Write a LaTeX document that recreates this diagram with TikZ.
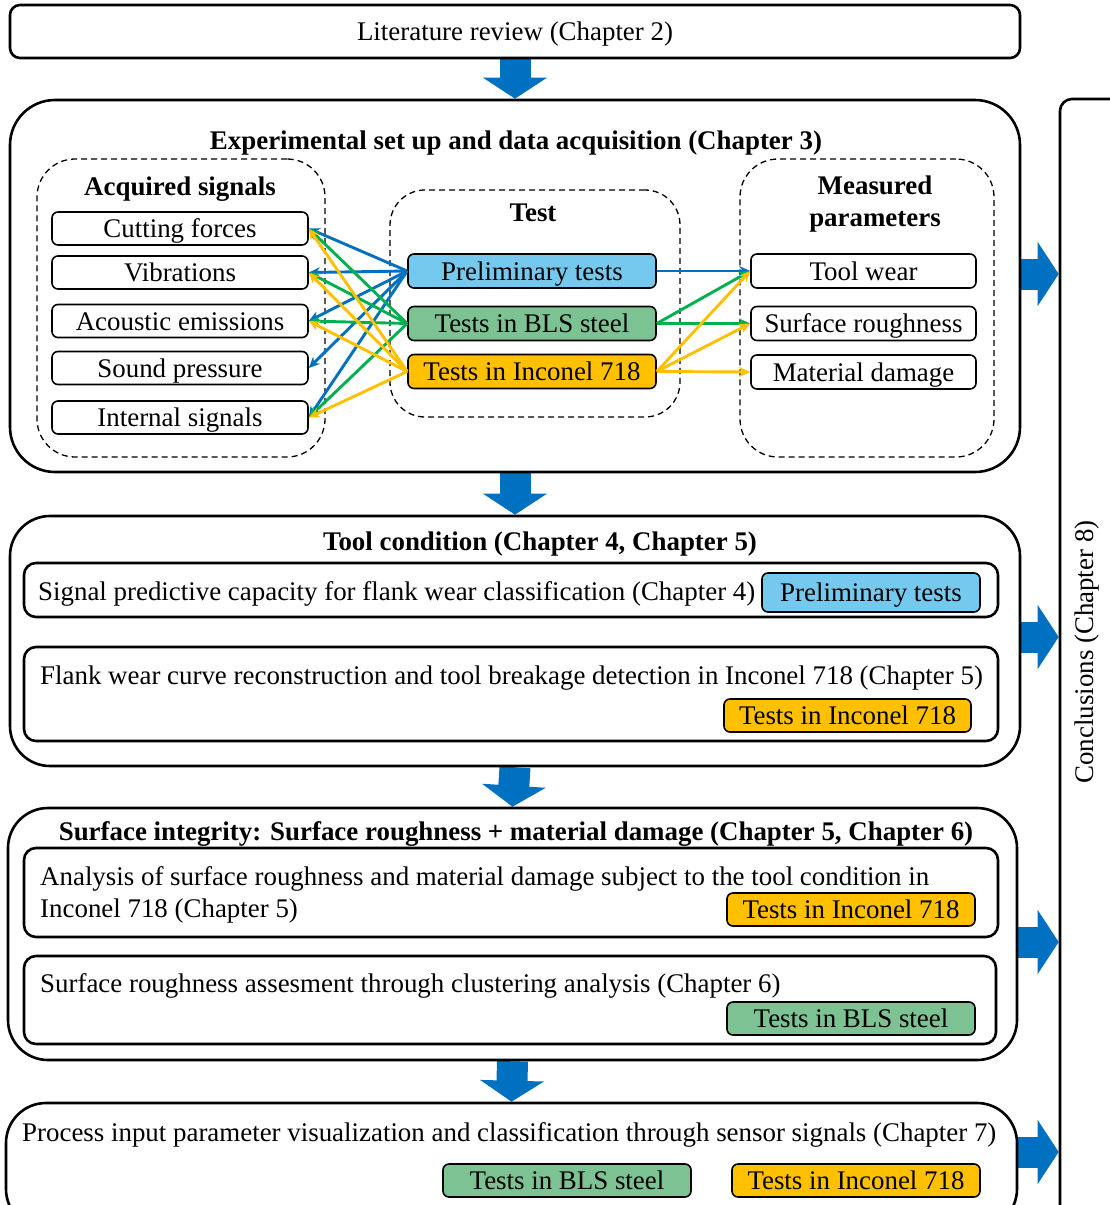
\documentclass[tikz,border=0pt]{standalone}
\usepackage{fontspec}
\setmainfont{Liberation Serif}
\usetikzlibrary{arrows.meta,calc,backgrounds}
\definecolor{ablue}{HTML}{0070C0}
\definecolor{agreen}{HTML}{00B050}
\definecolor{ayellow}{HTML}{FFC000}
\definecolor{fblue}{HTML}{75C9EE}
\definecolor{fgreen}{HTML}{7CC292}
\definecolor{fyellow}{HTML}{FFC000}
\newcommand\fsz{\fontsize{26.9}{32}\selectfont}
\tikzset{
  every node/.style={font=\fsz},
  outerbox/.style={draw, line width=2.6pt, inner sep=0pt, rounded corners=40pt},
  innerbox/.style={draw, line width=2.6pt, inner sep=0pt, rounded corners=12pt},
  dashbox/.style={draw, line width=1.3pt, dash pattern=on 6pt off 4pt, inner sep=0pt, rounded corners=38pt},
  sigbox/.style={draw, line width=1.6pt, rounded corners=6pt, inner sep=0pt, text height=21pt, text depth=3pt},
  prebox/.style={sigbox, fill=fblue},
  blsbox/.style={sigbox, fill=fgreen},
  incbox/.style={sigbox, fill=fyellow},
  title/.style={font=\fsz\bfseries, inner sep=0pt, anchor=base},
  plain/.style={inner sep=0pt, anchor=base west},
  conn/.style={line width=2.9pt, -{Stealth[length=11pt,width=10pt]}},
  bigdown/.style={draw=ablue, line width=31pt, -{Triangle[length=21pt 0 0,width=63pt 0 0]}},
}
\begin{document}
\begin{tikzpicture}[x=1pt,y=-1pt]
\clip (0,0) rectangle (1110,1205);

% Literature review
\node[innerbox, rounded corners=10pt, minimum width=1010, minimum height=53, text height=21pt, text depth=3pt] (lit) at (515,31.5) {Literature review (Chapter 2)};

% Experimental set up
\node[outerbox, rounded corners=45pt, minimum width=1010, minimum height=372] (exp) at (515,286) {};
\node[title] (exptitle) at (516,149) {Experimental set up and data acquisition (Chapter 3)};

\node[dashbox, minimum width=288, minimum height=298] (acq) at (181,308) {};
\node[title] (acqtitle) at (180,195) {Acquired signals};
\node[dashbox, rounded corners=35pt, minimum width=290, minimum height=227] (test) at (535,303.5) {};
\node[title] (testtitle) at (533,221) {Test};
\node[dashbox, minimum width=254, minimum height=298] (meas) at (867,308) {};
\node[title] (meastitle1) at (875,194) {Measured};
\node[title] (meastitle2) at (875,226) {parameters};

\node[sigbox, minimum width=256, minimum height=33] (cf) at (180,228.5) {Cutting forces};
\node[sigbox, minimum width=256, minimum height=33] (vib) at (180,272.5) {Vibrations};
\node[sigbox, minimum width=256, minimum height=33] (ae) at (180,321) {Acoustic emissions};
\node[sigbox, minimum width=256, minimum height=33] (sp) at (180,368) {Sound pressure};
\node[sigbox, minimum width=256, minimum height=33] (is) at (180,417.5) {Internal signals};

\node[prebox, minimum width=248, minimum height=34] (pre) at (532,271) {Preliminary tests};
\node[blsbox, minimum width=248, minimum height=34] (bls) at (532,323.5) {Tests in BLS steel};
\node[incbox, minimum width=248, minimum height=34] (inc) at (532,371.5) {Tests in Inconel 718};

\node[sigbox, minimum width=225, minimum height=34] (tw) at (863.5,271) {Tool wear};
\node[sigbox, minimum width=225, minimum height=34] (sr) at (863.5,323.5) {Surface roughness};
\node[sigbox, minimum width=225, minimum height=34] (md) at (863.5,372) {Material damage};

% connectors to acquired signals
\foreach \t in {cf,vib,ae,sp,is} \draw[conn, ablue] (pre.west) -- (\t.east);
\foreach \t in {cf,vib,ae,is} \draw[conn, agreen] (bls.west) -- (\t.east);
\foreach \t in {cf,vib,ae,is} \draw[conn, ayellow] (inc.west) -- (\t.east);
% connectors to measured parameters
\draw[conn, ablue] (pre.east) -- (tw.west);
\foreach \t in {tw,sr} \draw[conn, agreen] (bls.east) -- (\t.west);
\foreach \t in {tw,sr,md} \draw[conn, ayellow] (inc.east) -- (\t.west);

% Tool condition
\node[outerbox, minimum width=1010, minimum height=250] (tool) at (515,641) {};
\node[title] (tooltitle) at (540,550) {Tool condition (Chapter 4, Chapter 5)};
\node[innerbox, minimum width=974, minimum height=54] (t1) at (511,590) {};
\node[plain] (t1text) at (38,600) {Signal predictive capacity for flank wear classification (Chapter 4)};
\node[prebox, minimum width=218, minimum height=39] (t1pre) at (871,592.5) {Preliminary tests};
\node[innerbox, minimum width=974, minimum height=94] (t2) at (511,694) {};
\node[plain] (t2text) at (40,684) {Flank wear curve reconstruction and tool breakage detection in Inconel 718 (Chapter 5)};
\node[incbox, minimum width=247, minimum height=33] (t2inc) at (847.5,715.5) {Tests in Inconel 718};

% Surface integrity
\node[outerbox, minimum width=1009, minimum height=252] (surf) at (512.5,934) {};
\node[title] (surftitle) at (516,840) {Surface integrity: Surface roughness + material damage (Chapter 5, Chapter 6)};
\node[innerbox, minimum width=974, minimum height=89] (s1) at (511,892.5) {};
\node[plain] (s1text1) at (40,885) {Analysis of surface roughness and material damage subject to the tool condition in};
\node[plain] (s1text2) at (40,917) {Inconel 718 (Chapter 5)};
\node[incbox, minimum width=248, minimum height=33] (s1inc) at (851,909.5) {Tests in Inconel 718};
\node[innerbox, minimum width=972, minimum height=88] (s2) at (510,1000) {};
\node[plain] (s2text) at (40,992) {Surface roughness assesment through clustering analysis (Chapter 6)};
\node[blsbox, minimum width=248, minimum height=33] (s2bls) at (851,1018.5) {Tests in BLS steel};

% Process input parameter
\node[outerbox, minimum width=1011, minimum height=126] (proc) at (511.5,1166) {};
\node[plain] (ptext) at (22,1141) {Process input parameter visualization and classification through sensor signals (Chapter 7)};
\node[blsbox, minimum width=248, minimum height=33] (pbls) at (567,1180.5) {Tests in BLS steel};
\node[incbox, minimum width=248, minimum height=33] (pinc) at (856,1180.5) {Tests in Inconel 718};

% Conclusions
\node[outerbox, rounded corners=12pt, minimum width=70, minimum height=1130] (concl) at (1095,664) {};
\node[rotate=90, inner sep=0pt] (concltext) at (1087,652) {Conclusions (Chapter 8)};

% big arrows
\begin{scope}[on background layer]
\draw[bigdown] (lit.south) -- (exp.north);
\draw[bigdown] (exp.south) -- (tool.north);
\draw[bigdown] (tool.south) -- (surf.north);
\draw[bigdown] (surf.south) -- (proc.north);
\draw[bigdown] ($(exp.east)+(0,-12)$) -- ($(concl.west)+(0,-390)$);
\draw[bigdown] ($(tool.east)+(0,-4)$) -- ($(concl.west)+(0,-27)$);
\draw[bigdown] ($(surf.east)+(0,8)$) -- ($(concl.west)+(0,278)$);
\draw[bigdown] ($(proc.east)+(0,-14)$) -- ($(concl.west)+(0,488)$);
\end{scope}
\end{tikzpicture}
\end{document}
